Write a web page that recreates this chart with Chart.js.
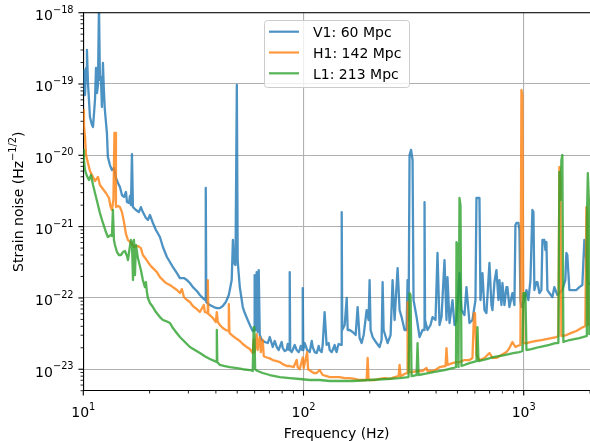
<!DOCTYPE html>
<html>
<head>
<meta charset="utf-8">
<title>Strain noise</title>
<script src="https://cdn.jsdelivr.net/npm/chart.js@4.4.1/dist/chart.umd.min.js"></script>
<style>
  html, body { margin: 0; padding: 0; background: #ffffff; }
  canvas { display: block; }
</style>
</head>
<body>
<canvas id="chart" width="590" height="441"></canvas>
<script>
// Amplitude spectral densities, each point is [frequency (Hz), strain noise (Hz^-1/2)]
const v1Points = [
  [10.0, 8.24e-20], [10.07, 1.57e-19], [10.18, 7.0e-20], [10.29, 1.68e-19], [10.39, 3.0e-19], [10.50, 1.03e-19], [10.61, 5.97e-20], [10.72, 3.45e-20], [10.95, 2.66e-20], [11.07, 2.5e-20],
  [11.3, 5.97e-20], [11.42, 1.68e-19], [11.54, 7.48e-20], [11.66, 9.7e-20], [11.78, 1.3e-18], [11.90, 1.14e-19], [12.02, 1.26e-19], [12.15, 4.76e-20], [12.28, 1.97e-19], [12.4, 8.24e-20],
  [12.53, 4.32e-20], [12.8, 2.06e-20], [12.93, 9.5e-21], [13.21, 7.3e-21], [13.49, 6.22e-21], [13.78, 6.63e-21], [14.07, 4.81e-21], [14.37, 4.09e-21], [14.67, 3.6e-21], [14.98, 2.77e-21],
  [15.3, 2.6e-21], [15.62, 3.06e-21], [15.79, 2.21e-21], [16.12, 2.14e-21], [16.29, 2.69e-21], [16.46, 2.0e-21], [16.63, 1.04e-20], [16.81, 1.88e-21], [17.34, 1.71e-21], [17.88, 1.6e-21],
  [18.26, 1.88e-21], [18.64, 1.6e-21], [19.25, 1.32e-21], [19.65, 1.24e-21], [20.07, 1.455e-21], [20.71, 1.125e-21], [21.37, 8.97e-22], [22.28, 7.16e-22], [22.99, 5.18e-22], [23.97, 3.75e-22],
  [24.74, 3.19e-22], [25.53, 2.71e-22], [26.62, 2.23e-22], [27.46, 1.9e-22], [28.63, 1.9e-22], [29.55, 1.78e-22], [30.48, 1.62e-22], [31.45, 1.42e-22], [32.79, 1.25e-22], [33.83, 1.1e-22],
  [34.9, 9.97e-23], [35.8, 9.34e-23], [35.99, 3.48e-21], [36.18, 8.76e-23], [37.55, 7.95e-23], [39.15, 7.45e-23], [40.4, 7.2e-23], [41.69, 7.2e-23], [43.0, 7.7e-23], [44.4, 8.76e-23],
  [45.8, 1.1e-22], [47.2, 1.78e-22], [47.8, 6.49e-22], [48.3, 3.09e-22], [49.1, 2.9e-22], [49.8, 9.7e-20], [50.25, 3.4e-22], [50.5, 2.71e-22], [51.37, 1.42e-22], [53.0, 7.45e-23],
  [54.1, 6.14e-23], [55.8, 4.9e-23], [57.6, 3.9e-23], [58.8, 3.44e-23], [59.7, 3.55e-23], [60.0, 2.09e-22], [60.6, 3.55e-23], [61.3, 2.3e-22], [61.9, 3.33e-23], [62.6, 2.46e-22],
  [63.3, 3.02e-23], [64.6, 2.57e-23], [66.7, 2.41e-23], [68.8, 2.33e-23], [70.27, 2.83e-23], [72.5, 2.05e-23], [74.0, 2.49e-23], [75.6, 2.05e-23], [77.2, 1.86e-23], [78.0, 2.05e-23],
  [79.6, 2.41e-23], [80.5, 1.98e-23], [82.2, 1.8e-23], [83.9, 1.86e-23], [84.8, 2.26e-23], [86.1, 1.86e-23], [86.58, 2.3e-22], [87.0, 1.86e-23], [88.4, 1.74e-23], [89.3, 1.86e-23],
  [91.2, 2.19e-23], [93.1, 1.86e-23], [95.1, 1.74e-23], [96.1, 1.86e-23], [97.1, 2.12e-23], [98.6, 1.86e-23], [99.2, 1.376e-22], [99.7, 1.86e-23], [101.3, 2.33e-23], [103.9, 1.86e-23],
  [105.6, 1.8e-23], [106.7, 1.74e-23], [109.0, 2.49e-23], [110.1, 2.05e-23], [112.4, 1.74e-23], [114.8, 1.69e-23], [117.2, 2.12e-23], [118.4, 1.86e-23], [120.9, 1.74e-23], [122.2, 2.19e-23],
  [124.7, 6.34e-23], [127.3, 2.19e-23], [130.1, 2.33e-23], [131.5, 1.86e-23], [134.3, 1.74e-23], [135.7, 1.86e-23], [138.5, 2.19e-23], [140.0, 1.86e-23], [141.4, 1.74e-23], [143.0, 2.05e-23],
  [144.4, 2.26e-23], [148.3, 2.19e-23], [149.1, 1.6e-21], [149.9, 3.55e-23], [153.8, 4.17e-23], [157.1, 9.97e-23], [158.7, 3.55e-23], [162.0, 3.55e-23], [167.2, 3.33e-23], [172.5, 3.02e-23],
  [176.1, 7.45e-23], [179.8, 2.74e-23], [183.6, 2.33e-23], [187.6, 3.02e-23], [193.5, 6.76e-23], [197.5, 4.9e-23], [199.6, 1.78e-22], [201.7, 3.55e-23], [206.0, 2.83e-23], [214.7, 2.33e-23],
  [221.6, 2.05e-23], [226.3, 2.57e-23], [228.7, 1.67e-22], [231.1, 3.55e-23], [240.9, 2.33e-23], [248.6, 3.02e-23], [253.8, 1.78e-22], [259.2, 4.9e-23], [267.5, 2.62e-22], [273.1, 6.76e-23],
  [278.9, 5.39e-23], [287.7, 3.55e-23], [293.8, 3.55e-23], [296.9, 1.78e-22], [300.0, 4.9e-23], [303.1, 1.01e-20], [307.9, 1.19e-20], [312.8, 8.6e-21], [316.0, 9.34e-23], [326.2, 5.39e-23],
  [336.5, 2.83e-23], [347.2, 3.55e-23], [352.7, 3.55e-23], [354.5, 2.21e-21], [356.4, 4.9e-23], [365.8, 3.55e-23], [377.4, 4.17e-23], [385.4, 5.39e-23], [397.6, 4.9e-23], [406.0, 4.27e-22],
  [414.6, 4.17e-23], [423.4, 5.39e-23], [436.8, 3.4e-22], [446.0, 4.9e-23], [450.7, 1.96e-22], [460.3, 4.45e-23], [474.9, 9.34e-23], [485.0, 4.17e-23], [495.2, 4.9e-23], [510.9, 2.23e-22],
  [521.7, 6.76e-23], [538.3, 5.75e-23], [549.6, 1.42e-22], [567.2, 4.45e-23], [585.2, 4.9e-23], [603.8, 9.34e-23], [610.1, 2.52e-21], [629.6, 2.52e-21], [636.2, 9.34e-23], [649.6, 2.23e-22],
  [663.4, 6.76e-23], [677.3, 6.14e-23], [698.9, 3.09e-22], [713.6, 7.95e-23], [721.2, 6.76e-23], [736.4, 1.67e-22], [751.9, 2.46e-22], [767.8, 9.34e-23], [775.9, 1.78e-22], [792.3, 7.95e-23],
  [800.6, 1.62e-22], [817.5, 7.95e-23], [834.8, 1.42e-22], [843.5, 1.42e-22], [861.3, 7.45e-23], [888.7, 1.17e-22], [907.5, 7.95e-23], [917.0, 1.05e-21], [926.6, 1.125e-21], [946.2, 1.125e-21],
  [956.1, 8.97e-22], [966.2, 9.34e-23], [976.3, 7.45e-23], [1007, 9.34e-23], [1029, 1.29e-22], [1050, 9.34e-23], [1073, 1.78e-22], [1095, 1.71e-21], [1107, 1.6e-21], [1118, 1.29e-22],
  [1142, 1.67e-22], [1154, 1.67e-22], [1178, 1.17e-22], [1203, 1.29e-22], [1216, 6.49e-22], [1241, 6.49e-22], [1254, 4.7e-22], [1268, 6.08e-22], [1281, 1.29e-22], [1308, 1.17e-22],
  [1350, 1.03e-22], [1378, 1.42e-22], [1422, 1.1e-22], [1452, 1.17e-22], [1498, 1.29e-22], [1545, 1.78e-22], [1562, 4.27e-22], [1578, 4.0e-22], [1612, 1.29e-22], [1663, 1.29e-22],
  [1734, 1.29e-22], [1789, 1.42e-22], [1846, 1.52e-22], [1885, 6.49e-22], [1905, 5.5e-22], [1945, 1.78e-22], [1986, 1.52e-22]
];

const h1Points = [
  [10.0, 4.32e-20], [10.07, 2.66e-20], [10.18, 1.81e-20], [10.29, 1.01e-20], [10.50, 7.8e-21], [10.72, 6.02e-21], [10.95, 5.3e-21], [11.3, 4.37e-21], [11.66, 4.97e-21], [11.90, 3.84e-21],
  [12.28, 3.37e-21], [12.67, 2.96e-21], [13.08, 2.52e-21], [13.28, 1.945e-21], [13.49, 1.71e-21], [13.70, 2.36e-21], [13.85, 2.06e-20], [13.99, 2.06e-20], [14.07, 1.88e-21], [14.37, 1.945e-21],
  [14.67, 1.88e-21], [14.98, 1.6e-21], [15.3, 1.16e-21], [15.62, 7.89e-22], [15.95, 6.49e-22], [16.46, 5.89e-22], [16.99, 5.18e-22], [17.70, 5.35e-22], [18.26, 5.0e-22], [18.64, 4.0e-22],
  [19.25, 3.51e-22], [20.07, 2.9e-22], [20.71, 2.62e-22], [21.59, 2.3e-22], [22.28, 1.96e-22], [22.99, 1.78e-22], [23.72, 1.62e-22], [24.74, 1.52e-22], [25.53, 1.42e-22], [26.62, 1.29e-22],
  [27.46, 1.17e-22], [28.04, 1.33e-22], [28.63, 1.03e-22], [29.55, 9.34e-23], [30.48, 8.76e-23], [31.45, 7.7e-23], [32.79, 6.98e-23], [33.83, 6.34e-23], [35.27, 7.95e-23], [35.64, 6.34e-23],
  [36.58, 6.14e-23], [36.77, 1.78e-22], [36.96, 5.95e-23], [37.55, 5.75e-23], [38.75, 5.22e-23], [39.98, 4.6e-23], [40.4, 6.34e-23], [40.8, 4.6e-23], [41.69, 4.17e-23], [43.0, 3.78e-23],
  [44.4, 3.55e-23], [45.6, 3.44e-23], [45.8, 8.2e-23], [46.1, 3.23e-23], [47.8, 2.92e-23], [49.9, 2.65e-23], [51.37, 2.49e-23], [53.0, 2.26e-23], [55.2, 2.05e-23], [57.02, 1.92e-23],
  [58.8, 1.69e-23], [59.4, 2.57e-23], [60.0, 1.74e-23], [61.3, 3.11e-23], [61.9, 1.86e-23], [63.3, 2.83e-23], [64.0, 1.74e-23], [65.3, 2.57e-23], [66.0, 1.52e-23], [68.1, 1.46e-23],
  [70.27, 1.42e-23], [72.5, 1.346e-23], [75.6, 1.3e-23], [78.0, 1.26e-23], [80.5, 1.18e-23], [83.9, 1.11e-23], [86.58, 1.11e-23], [90.2, 1.07e-23], [93.1, 1.346e-23], [94.1, 1.07e-23],
  [96.1, 1.0e-23], [99.2, 1.46e-23], [100.2, 1.04e-23], [103.9, 1.74e-23], [104.9, 1.0e-23], [107.8, 9.44e-24], [111.3, 8.85e-24], [114.8, 8.85e-24], [118.4, 9.75e-24], [122.2, 8.3e-24],
  [127.3, 8.0e-24], [131.5, 7.76e-24], [138.5, 7.76e-24], [145.9, 7.76e-24], [153.8, 7.5e-24], [162.0, 7.5e-24], [170.7, 7.3e-24], [179.8, 7.06e-24], [193.5, 7.06e-24], [195.6, 1.44e-23],
  [197.5, 7.06e-24], [210.3, 7.06e-24], [221.6, 7.3e-24], [233.5, 7.5e-24], [246.0, 7.3e-24], [259.2, 7.76e-24], [270.3, 8.0e-24], [273.1, 1.15e-23], [276.0, 8.0e-24], [287.7, 8.6e-24],
  [295.4, 8.85e-24], [296.9, 8.76e-23], [299.1, 8.76e-23], [301.5, 9.15e-24], [312.8, 9.15e-24], [329.5, 9.44e-24], [347.2, 9.44e-24], [362.0, 1.04e-23], [365.8, 9.44e-24], [385.4, 9.44e-24],
  [402.1, 1.0e-23], [414.6, 1.07e-23], [441.7, 1.11e-23], [446.0, 1.98e-23], [450.7, 1.15e-23], [474.9, 1.22e-23], [495.2, 1.26e-23], [510.9, 1.26e-23], [538.3, 1.346e-23], [567.2, 1.346e-23],
  [585.2, 1.44e-23], [594.5, 6.14e-23], [600.7, 6.14e-23], [610.1, 1.58e-23], [629.6, 1.346e-23], [663.4, 1.44e-23], [698.9, 1.69e-23], [721.2, 1.44e-23], [751.9, 1.44e-23], [792.3, 1.58e-23],
  [834.8, 1.74e-23], [861.3, 1.98e-23], [888.7, 2.41e-23], [917.0, 2.05e-23], [936.6, 2.12e-23], [966.2, 2.19e-23], [976.3, 8.24e-20], [986.5, 7.0e-20], [996.9, 2.33e-23], [1029, 2.33e-23],
  [1084, 2.41e-23], [1142, 2.49e-23], [1203, 2.57e-23], [1268, 2.65e-23], [1336, 2.74e-23], [1407, 2.83e-23], [1437, 2.92e-23], [1452, 6.86e-21], [1467, 4.51e-21], [1483, 2.92e-23],
  [1562, 3.02e-23], [1646, 3.23e-23], [1734, 3.44e-23], [1827, 3.78e-23], [1905, 4.04e-23], [1925, 1.88e-21], [1945, 1.455e-21], [1965, 4.17e-23], [1986, 4.3e-23]
];

const l1Points = [
  [10.0, 1.19e-20], [10.07, 8.6e-21], [10.18, 6.22e-21], [10.39, 5.13e-21], [10.61, 4.51e-21], [10.84, 5.3e-21], [11.07, 3.84e-21], [11.42, 2.6e-21], [11.90, 1.55e-21], [12.28, 1.125e-21],
  [12.67, 8.4e-22], [12.93, 7.16e-22], [13.35, 7.64e-22], [13.49, 7.4e-22], [13.63, 1.71e-21], [13.78, 6.49e-22], [13.92, 5.52e-22], [14.22, 4.4e-22], [14.52, 4.0e-22], [14.82, 4.0e-22],
  [15.14, 4.4e-22], [15.46, 4.55e-22], [15.79, 3.87e-22], [15.95, 3.4e-22], [16.29, 5.35e-22], [16.46, 6.49e-22], [16.63, 6.08e-22], [16.81, 1.78e-22], [16.99, 6.49e-22], [17.16, 2.09e-22],
  [17.34, 5.52e-22], [17.70, 3.62e-22], [18.26, 2.46e-22], [18.64, 1.78e-22], [19.05, 1.42e-22], [19.25, 1.67e-22], [19.45, 1.21e-22], [19.65, 9.97e-23], [20.07, 8.5e-23], [20.71, 7.45e-23],
  [21.37, 6.34e-23], [22.28, 5.39e-23], [22.99, 4.9e-23], [23.72, 4.74e-23], [24.74, 4.45e-23], [25.53, 3.78e-23], [26.34, 3.33e-23], [27.46, 2.83e-23], [28.93, 2.41e-23], [30.48, 2.05e-23],
  [32.11, 1.86e-23], [33.83, 1.69e-23], [35.64, 1.52e-23], [37.55, 1.39e-23], [39.56, 1.3e-23], [40.2, 1.26e-23], [40.4, 3.55e-23], [40.6, 1.26e-23], [41.69, 1.15e-23], [43.9, 1.11e-23],
  [46.28, 1.07e-23], [49.9, 1.04e-23], [53.0, 1.0e-23], [57.02, 9.75e-24], [58.8, 9.44e-24], [59.4, 3.9e-23], [59.8, 3.9e-23], [60.3, 1.0e-23], [61.9, 9.44e-24], [65.3, 8.85e-24],
  [70.27, 8.3e-24], [78.0, 7.76e-24], [86.58, 7.5e-24], [96.1, 7.3e-24], [106.7, 7.06e-24], [118.4, 7.06e-24], [131.5, 6.84e-24], [145.9, 6.84e-24], [167.2, 6.84e-24], [199.6, 7.06e-24],
  [238.5, 7.3e-24], [273.1, 7.5e-24], [300.0, 7.76e-24], [303.1, 1.17e-22], [306.3, 1.1e-22], [309.5, 8.0e-24], [326.2, 8.3e-24], [329.5, 2.33e-23], [333.0, 8.3e-24], [354.5, 8.6e-24],
  [393.5, 9.15e-24], [436.8, 9.75e-24], [474.9, 1.04e-23], [492.6, 1.07e-23], [495.2, 6.08e-22], [500.3, 5.52e-22], [505.6, 1.07e-23], [508.3, 1.07e-23], [510.9, 2.52e-21], [516.3, 2.0e-21],
  [521.7, 1.11e-23], [567.2, 1.22e-23], [610.1, 1.3e-23], [616.6, 3.9e-23], [623.1, 1.3e-23], [677.3, 1.39e-23], [736.4, 1.49e-23], [817.5, 1.58e-23], [907.5, 1.69e-23], [956.1, 1.74e-23],
  [986.5, 1.8e-23], [996.9, 1.17e-22], [1018, 1.17e-22], [1029, 1.86e-23], [1084, 1.92e-23], [1178, 2.05e-23], [1308, 2.19e-23], [1392, 2.33e-23], [1437, 2.33e-23], [1452, 5.84e-21],
  [1467, 2.36e-21], [1483, 8.6e-21], [1498, 1.01e-20], [1514, 2.41e-23], [1612, 2.57e-23], [1789, 2.74e-23], [1925, 2.92e-23], [1935, 1.125e-21], [1955, 5.64e-21], [1976, 2.36e-21],
  [1986, 3.02e-23]
];

const seriesLabels = ['V1: 60 Mpc', 'H1: 142 Mpc', 'L1: 213 Mpc'];
const seriesColors = ['rgba(31,119,180,0.8)', 'rgba(255,127,14,0.8)', 'rgba(44,160,44,0.8)'];

const xRange = [10, 2000];
const yRange = [5e-24, 1e-18];
const xTickExponents = [1, 2, 3];
const yTickExponents = [-23, -22, -21, -20, -19, -18];
const xTitle = 'Frequency (Hz)';
const yTitleParts = ['Strain noise (Hz', '\u22121/2', ')'];

const FONT_FAMILY = '"DejaVu Sans", "Liberation Sans", sans-serif';
const TEXT_COLOR = '#000000';

// Decade and sub-decade tick values inside [min, max]
function logTickValues(min, max) {
  const out = [];
  const lo = Math.floor(Math.log10(min)) - 1;
  const hi = Math.ceil(Math.log10(max));
  for (let e = lo; e <= hi; e++) {
    for (let k = 1; k <= 9; k++) {
      const v = parseFloat(k + 'e' + e);
      if (v >= min * 0.9999 && v <= max * 1.0001) out.push(v);
    }
  }
  return out;
}
function isDecade(v) {
  const l = Math.log10(v);
  return Math.abs(l - Math.round(l)) < 1e-6;
}

const xTickVals = logTickValues(xRange[0], xRange[1]);
const yTickVals = logTickValues(yRange[0], yRange[1]);

const gridColor = (c) => (c.tick && isDecade(c.tick.value)) ? '#b0b0b0' : 'rgba(0,0,0,0)';

// Tick marks, tick labels, axis titles, top spine and the legend box
const decorPlugin = {
  id: 'decor',
  afterDraw(chart) {
    const ctx = chart.ctx;
    const area = chart.chartArea;
    const xs = chart.scales.x;
    const ys = chart.scales.y;
    ctx.save();

    // top spine
    ctx.strokeStyle = '#000';
    ctx.lineWidth = 1.1;
    ctx.beginPath();
    ctx.moveTo(area.left, area.top);
    ctx.lineTo(area.right, area.top);
    ctx.stroke();

    // tick marks
    xTickVals.forEach(v => {
      const px = xs.getPixelForValue(v);
      const major = isDecade(v);
      ctx.lineWidth = major ? 1.1 : 0.85;
      ctx.beginPath();
      ctx.moveTo(px, area.bottom);
      ctx.lineTo(px, area.bottom + (major ? 4.9 : 2.8));
      ctx.stroke();
    });
    yTickVals.forEach(v => {
      const py = ys.getPixelForValue(v);
      const major = isDecade(v);
      ctx.lineWidth = major ? 1.1 : 0.85;
      ctx.beginPath();
      ctx.moveTo(area.left, py);
      ctx.lineTo(area.left - (major ? 4.9 : 2.8), py);
      ctx.stroke();
    });

    const mainFont = '14px ' + FONT_FAMILY;
    const supFont = '9.8px ' + FONT_FAMILY;
    ctx.fillStyle = TEXT_COLOR;
    ctx.textBaseline = 'alphabetic';
    ctx.textAlign = 'left';

    // x tick labels: 10^n
    xTickExponents.forEach(e => {
      const px = xs.getPixelForValue(Math.pow(10, e));
      const sup = String(e).replace('-', '\u2212');
      ctx.font = mainFont;
      const wm = ctx.measureText('10').width;
      ctx.font = supFont;
      const ws = ctx.measureText(sup).width;
      const left = px - (wm + ws) / 2;
      ctx.font = mainFont;
      ctx.fillText('10', left, area.bottom + 26.3);
      ctx.font = supFont;
      ctx.fillText(sup, left + wm, area.bottom + 19);
    });

    // y tick labels: 10^n
    yTickExponents.forEach(e => {
      const py = ys.getPixelForValue(Math.pow(10, e));
      const sup = String(e).replace('-', '\u2212');
      const right = area.left - 9.7;
      ctx.font = supFont;
      const ws = ctx.measureText(sup).width;
      ctx.font = mainFont;
      const wm = ctx.measureText('10').width;
      ctx.fillText('10', right - ws - wm, py + 7.4);
      ctx.font = supFont;
      ctx.fillText(sup, right - ws, py);
    });

    // x axis title
    ctx.font = mainFont;
    ctx.textAlign = 'center';
    ctx.fillText(xTitle, (area.left + area.right) / 2, area.bottom + 46.8);

    // y axis title (rotated)
    ctx.textAlign = 'left';
    ctx.save();
    ctx.translate(22.5, (area.top + area.bottom) / 2);
    ctx.rotate(-Math.PI / 2);
    ctx.font = mainFont;
    const w0 = ctx.measureText(yTitleParts[0]).width;
    const w2 = ctx.measureText(yTitleParts[2]).width;
    ctx.font = supFont;
    const w1 = ctx.measureText(yTitleParts[1]).width;
    let tx = -(w0 + w1 + w2) / 2;
    ctx.font = mainFont;
    ctx.fillText(yTitleParts[0], tx, 0);
    tx += w0;
    ctx.font = supFont;
    ctx.fillText(yTitleParts[1], tx, -6.5);
    tx += w1;
    ctx.font = mainFont;
    ctx.fillText(yTitleParts[2], tx, 0);
    ctx.restore();

    // legend
    const lx = 264.5, ly = 20.5, lw = 145, lh = 67, r = 3;
    ctx.beginPath();
    ctx.moveTo(lx + r, ly);
    ctx.lineTo(lx + lw - r, ly);
    ctx.arcTo(lx + lw, ly, lx + lw, ly + r, r);
    ctx.lineTo(lx + lw, ly + lh - r);
    ctx.arcTo(lx + lw, ly + lh, lx + lw - r, ly + lh, r);
    ctx.lineTo(lx + r, ly + lh);
    ctx.arcTo(lx, ly + lh, lx, ly + lh - r, r);
    ctx.lineTo(lx, ly + r);
    ctx.arcTo(lx, ly, lx + r, ly, r);
    ctx.closePath();
    ctx.fillStyle = 'rgba(255,255,255,0.8)';
    ctx.fill();
    ctx.strokeStyle = '#cccccc';
    ctx.lineWidth = 1;
    ctx.stroke();

    seriesLabels.forEach((label, i) => {
      const y = 31.7 + i * 20.8;
      ctx.strokeStyle = seriesColors[i];
      ctx.lineWidth = 2.2;
      ctx.beginPath();
      ctx.moveTo(269, y);
      ctx.lineTo(299, y);
      ctx.stroke();
      ctx.fillStyle = TEXT_COLOR;
      ctx.font = mainFont;
      ctx.fillText(label, 313, y + 5.2);
    });

    ctx.restore();
  }
};

const seriesPoints = [v1Points, h1Points, l1Points];

new Chart(document.getElementById('chart').getContext('2d'), {
  type: 'line',
  data: {
    datasets: seriesPoints.map((pts, i) => ({
      label: seriesLabels[i],
      data: pts.map(p => ({ x: p[0], y: p[1] })),
      borderColor: seriesColors[i],
      backgroundColor: seriesColors[i],
      borderWidth: 2.3,
      borderJoinStyle: 'round',
      pointRadius: 0,
      pointHoverRadius: 0,
      fill: false,
      tension: 0,
      clip: 0,
      order: 3 - i
    }))
  },
  options: {
    responsive: false,
    animation: false,
    devicePixelRatio: 1,
    events: [],
    layout: { padding: { top: 12.7, left: 0, right: 0, bottom: 0 } },
    plugins: { legend: { display: false }, tooltip: { enabled: false } },
    scales: {
      x: {
        type: 'logarithmic',
        min: xRange[0],
        max: xRange[1],
        afterBuildTicks: s => { s.ticks = xTickVals.map(v => ({ value: v })); },
        afterFit: s => { s.height = 50.3; },
        ticks: { display: false },
        grid: { color: gridColor, lineWidth: 1.1, drawTicks: false },
        border: { display: true, color: '#000', width: 1.1 }
      },
      y: {
        type: 'logarithmic',
        min: yRange[0],
        max: yRange[1],
        afterBuildTicks: s => { s.ticks = yTickVals.map(v => ({ value: v })); },
        afterFit: s => { s.width = 83.3; },
        ticks: { display: false },
        grid: { color: gridColor, lineWidth: 1.1, drawTicks: false },
        border: { display: true, color: '#000', width: 1.1 }
      }
    }
  },
  plugins: [decorPlugin]
});
</script>
</body>
</html>
